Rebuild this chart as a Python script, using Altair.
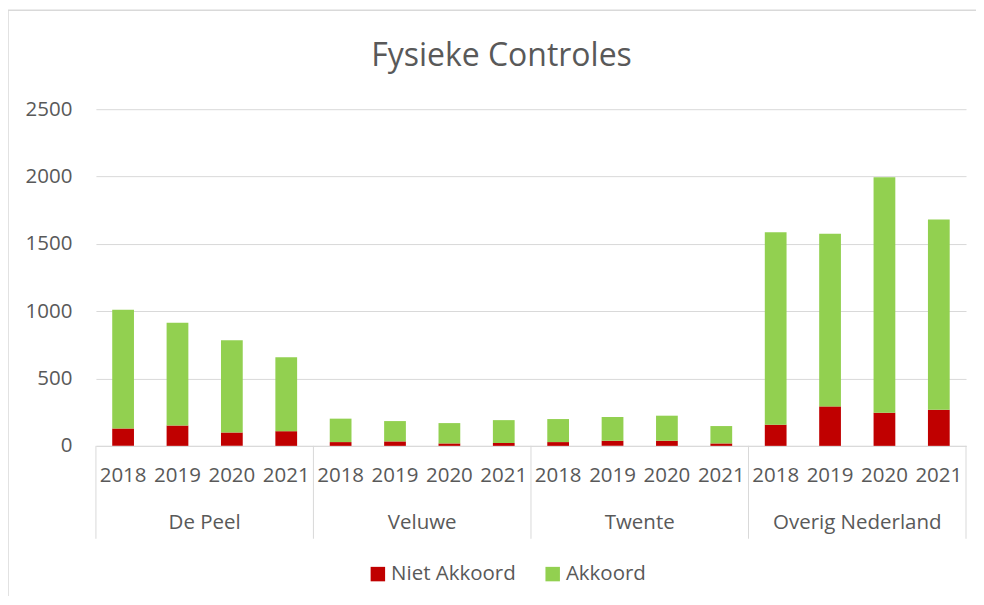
import altair as alt
import pandas as pd

title_text = "Fysieke Controles"
regions = ["De Peel", "Veluwe", "Twente", "Overig Nederland"]
years = ["2018", "2019", "2020", "2021"]
series = ["Niet Akkoord", "Akkoord"]
niet_akkoord = {
    "De Peel": [128, 151, 99, 109],
    "Veluwe": [28, 33, 18, 21],
    "Twente": [28, 38, 38, 18],
    "Overig Nederland": [157, 293, 246, 268],
}
akkoord = {
    "De Peel": [882, 764, 685, 549],
    "Veluwe": [174, 151, 151, 170],
    "Twente": [171, 176, 186, 129],
    "Overig Nederland": [1429, 1283, 1748, 1412],
}
y_ticks = [0, 500, 1000, 1500, 2000, 2500]

rows = []
keys = []
for r in regions:
    for i, y in enumerate(years):
        k = f"{r}|{y}"
        keys.append(k)
        rows.append({"key": k, "serie": "Niet Akkoord", "order": 0, "value": niet_akkoord[r][i]})
        rows.append({"key": k, "serie": "Akkoord", "order": 1, "value": akkoord[r][i]})
df = pd.DataFrame(rows)

grp = pd.DataFrame({"region": regions, "pos": [i + 0.5 for i in range(len(regions))]})
seps = pd.DataFrame({"pos": list(range(len(regions) + 1))})

W, H = 871, 337
FONT = "Open Sans"
GRAY = "#595959"
FS = 20.5

bars = alt.Chart(df).mark_bar().encode(
    x=alt.X("key:N", sort=keys,
            scale=alt.Scale(paddingInner=0.6, paddingOuter=0.3),
            axis=alt.Axis(title=None, labelExpr="split(datum.label, '|')[1]",
                          labelAngle=0, labelFontSize=FS, labelColor=GRAY, labelFont=FONT,
                          labelPadding=20, ticks=False, domainColor="#d9d9d9", grid=False)),
    y=alt.Y("value:Q", stack="zero",
            scale=alt.Scale(domain=[0, 2500], nice=False),
            axis=alt.Axis(title=None, values=y_ticks, format="d", labelFontSize=FS,
                          labelColor=GRAY, labelFont=FONT, labelPadding=24, ticks=False,
                          domain=False, gridColor="#d9d9d9")),
    color=alt.Color("serie:N", sort=series,
                    scale=alt.Scale(domain=series, range=["#C00000", "#92D050"]),
                    legend=alt.Legend(title=None, orient="none", direction="horizontal",
                                      legendX=272, legendY=455, symbolType="square",
                                      symbolSize=210, symbolStrokeWidth=0,
                                      labelFontSize=FS, labelColor=GRAY, labelFont=FONT,
                                      columnPadding=26, symbolOffset=0, labelOffset=3)),
    order=alt.Order("order:Q"),
)

grp_text = alt.Chart(grp).mark_text(fontSize=FS, color=GRAY, font=FONT).encode(
    x=alt.X("pos:Q", scale=alt.Scale(domain=[0, 4], nice=False, zero=False), axis=None),
    y=alt.value(H + 77),
    text="region:N",
)

sep_rules = alt.Chart(seps).mark_rule(color="#d9d9d9", strokeWidth=1).encode(
    x=alt.X("pos:Q", scale=alt.Scale(domain=[0, 4], nice=False, zero=False), axis=None),
    y=alt.value(H),
    y2=alt.value(H + 93),
)

title = alt.Chart(pd.DataFrame({"t": [title_text]})).mark_text(
    fontSize=32, font=FONT, color=GRAY, baseline="middle", align="center"
).encode(x=alt.value(406), y=alt.value(-53), text="t:N")

border = alt.Chart(pd.DataFrame({"a": [0]})).mark_rect(
    fill=None, stroke="#d9d9d9", strokeWidth=1.5
).encode(
    x=alt.value(-88), x2=alt.value(W + 12), y=alt.value(-99), y2=alt.value(H + 152)
)

overlay = alt.layer(grp_text, sep_rules)

chart = alt.layer(bars, overlay, title, border).resolve_scale(x="independent").properties(
    width=W, height=H,
    autosize=alt.AutoSizeParams(type="none"),
    padding={"left": 88, "top": 101, "right": 10, "bottom": 150},
).configure_view(stroke=None)

chart.save("out.html", embed_options={"renderer": "svg", "actions": False})
